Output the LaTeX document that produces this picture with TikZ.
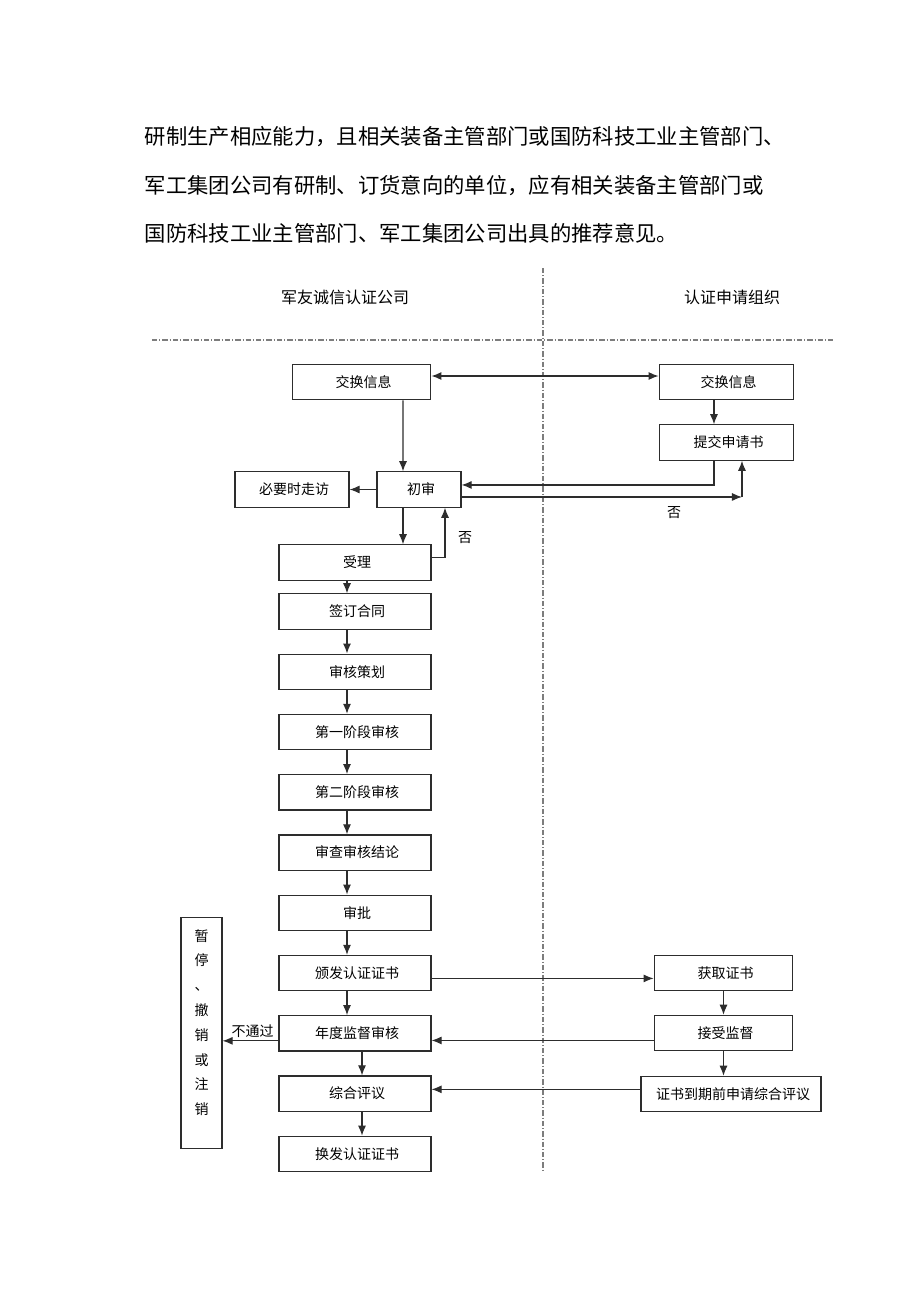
\documentclass[tikz,border=0pt]{standalone}
\usepackage{fontspec}
\usepackage{tikz}
\usetikzlibrary{arrows.meta}
\newfontfamily\cjk{Noto Sans CJK SC}
\definecolor{line_gray}		{RGB}{45,45,45}
\definecolor{sep_gray}		{RGB}{125,125,125}
\newcommand{\boxfont}		{ \cjk\fontsize{10.5}{12}\selectfont }
\newcommand{\headfont}		{ \cjk\fontsize{12}{14}\selectfont }
\newcommand{\parfont}		{ \cjk\fontsize{16}{19}\selectfont }

\begin{document}
\begin{tikzpicture}[x = 0.75pt, y = -0.75pt,
		node distance   = 45.2pt,
		blockK/.style   = {draw = line_gray,
			rectangle,
			text centered,
			fill           = white,
			minimum width  = 114pt,
			minimum height = 26.5pt,
			inner sep      = 0pt,
			font           = \boxfont,
			line width     = 0.9pt},
		textP/.style    = {anchor = west,
			inner sep      = 0pt,
			font           = \parfont},
		textL/.style    = {inner sep = 1pt,
			font           = \boxfont},
		arrowG/.style   = {draw = line_gray,
			line width     = 0.8pt,
			-{Latex[length=7.5pt,width=6pt]}},
		sepLine/.style  = {draw = sep_gray,
			line width     = 0.8pt,
			dash pattern   = on 4pt off 1.5pt on 0.8pt off 1.5pt}]
		
		\useasboundingbox (0,0) rectangle (920,1302);
		
		% text above the chart
		\node[textP] (par1) at (140,137) {研制生产相应能力，且相关装备主管部门或国防科技工业主管部门、};
		\node[textP] (par2) at (140,186) {军工集团公司有研制、订货意向的单位，应有相关装备主管部门或};
		\node[textP] (par3) at (140,233) {国防科技工业主管部门、军工集团公司出具的推荐意见。};
		
		% lanes
		\coordinate (vTop) at (543,268);
		\coordinate (vBot) at (543,1170);
		\coordinate (hL)   at (152,340);
		\coordinate (hR)   at (835,340);
		\path[sepLine] (vTop) -- (vBot);
		\path[sepLine] (hL) -- (hR);
		
		\node[font=\headfont] (hdL) at (343,297) {军友诚信认证公司};
		\node[font=\headfont] (hdR) at (730,297) {认证申请组织};
		
		% left lane
		\node[blockK, minimum width=104pt] (jh1) at (361.5,382) {交换信息};
		\node[blockK, minimum width=63pt]  (cs)  at (419,489.5) {初审};
		\node[blockK, minimum width=85.5pt] (zf) at (292,489.5) {必要时走访};
		
		\node[blockK] (sl) at (355,562.5) {受理};
		\node[blockK] (qd) [below of=sl, node distance=36.75pt] {签订合同};
		\node[blockK] (ch) [below of=qd] {审核策划};
		\node[blockK] (d1) [below of=ch] {第一阶段审核};
		\node[blockK] (d2) [below of=d1] {第二阶段审核};
		\node[blockK] (jl) [below of=d2] {审查审核结论};
		\node[blockK] (sp) [below of=jl] {审批};
		\node[blockK] (bf) [below of=sp] {颁发认证证书};
		\node[blockK] (nd) [below of=bf] {年度监督审核};
		\node[blockK] (zh) [below of=nd] {综合评议};
		\node[blockK] (hf) [below of=zh] {换发认证证书};
		
		\node[blockK, minimum width=30.75pt, minimum height=173pt] (zt) at (201.5,1033) {};
		\node[font=\cjk\fontsize{10.5}{18.6}\selectfont, align=center, anchor=north, inner sep=0pt]
			(ztText) at (201.5,929) {暂\\停\\、\\撤\\销\\或\\注\\销};
		
		% right lane
		\node[blockK, minimum width=101pt] (jh2) at (726.5,382) {交换信息};
		\node[blockK, minimum width=101pt] (tj)  at (726.5,442.5) {提交申请书};
		\node[blockK, minimum width=104pt] (hq)  at (723.5,973) {获取证书};
		\node[blockK, minimum width=104pt] (js)  at (723.5,1033) {接受监督};
		\node[blockK, minimum width=135pt] (jd)  at (731,1094) {证书到期前申请综合评议};
		
		% connectors
		\draw[arrowG, {Latex[length=7.5pt,width=6pt]}-{Latex[length=7.5pt,width=6pt]}]
			([yshift=4.5pt]jh1.east) -- ([yshift=4.5pt]jh2.west);
		\draw[arrowG] ([xshift=31.1pt]jh1.south) -- ([xshift=-12pt]cs.north);
		\draw[arrowG] ([xshift=-9.4pt]jh2.south) -- ([xshift=-9.4pt]tj.north);
		\draw[arrowG] ([xshift=-9.4pt]tj.south) |- ([yshift=3.4pt]cs.east);
		
		\coordinate (noL) at ([yshift=-5.6pt]cs.east);
		\coordinate (noR) at ([xshift=11.6pt]tj.south);
		\draw[arrowG] (noL) -- (noL -| noR);
		\draw[arrowG] (noL -| noR) -- (noR);
		\node[textL] (no1) at (672,513) {否};
		
		\draw[arrowG] (cs.west) -- (zf.east);
		\draw[arrowG] ([xshift=-12pt]cs.south) -- ([xshift=36pt]sl.north);
		
		\coordinate (nb) at ([xshift=19.5pt]cs.south);
		\draw[arrowG] ([yshift=4.1pt]sl.east) -| (nb);
		\node[textL] (no2) at (463,538) {否};
		
		\foreach \a/\b in {sl/qd, qd/ch, ch/d1, d1/d2, d2/jl, jl/sp, sp/bf, bf/nd}
			\draw[arrowG] ([xshift=-6pt]\a.south) -- ([xshift=-6pt]\b.north);
		\foreach \a/\b in {nd/zh, zh/hf}
			\draw[arrowG] ([xshift=5.25pt]\a.south) -- ([xshift=5.25pt]\b.north);
		
		\draw[arrowG] ([yshift=-4pt]bf.east) -- ([yshift=-4pt]bf.east -| hq.west);
		\draw[arrowG] (hq.south) -- (js.north);
		\draw[arrowG] (js.south) -- (js.south |- jd.north);
		\draw[arrowG] ([yshift=-5.6pt]js.west) -- ([yshift=-5.6pt]js.west -| nd.east);
		\draw[arrowG] ([yshift=3.5pt]jd.west) -- ([yshift=3.5pt]jd.west -| zh.east);
		\draw[arrowG] ([yshift=-5.6pt]nd.west) -- ([yshift=-5.6pt]nd.west -| zt.east)
			node[midway, above, textL, yshift=1pt] {不通过};
		
	\end{tikzpicture}
\end{document}
